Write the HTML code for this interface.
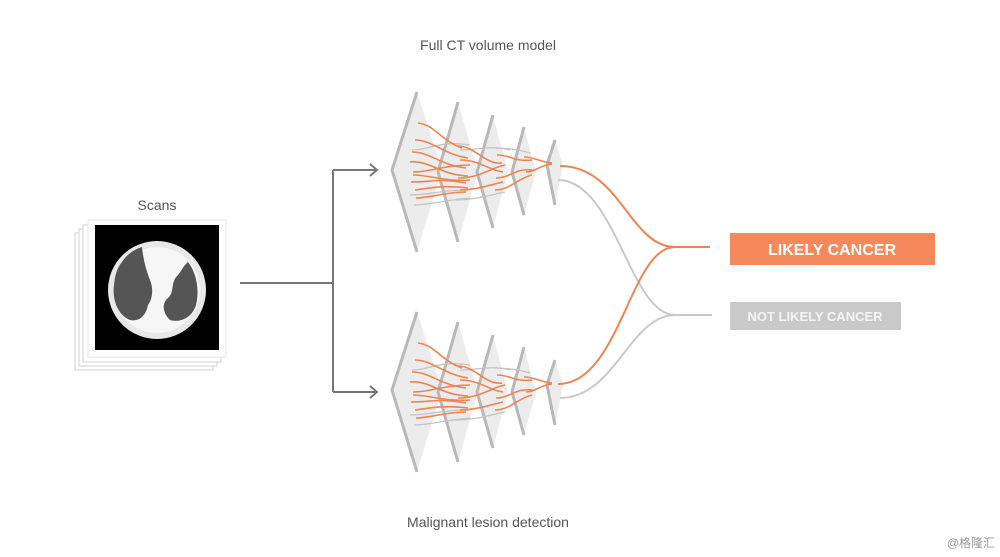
<!DOCTYPE html>
<html><head><meta charset="utf-8"><style>
html,body{margin:0;padding:0;background:#fff;}
body{width:1000px;height:557px;overflow:hidden;position:relative;font-family:"Liberation Sans","Noto Sans CJK SC",sans-serif;}
</style></head><body>
<svg width="1000" height="557" viewBox="0 0 1000 557" xmlns="http://www.w3.org/2000/svg" style="position:absolute;left:0;top:0">
<defs>
<g id="stack">
 <polygon points="417,92 442,170 417,252 392,170" fill="#ececec"/>
 <path d="M417,92 L392,170 L417,252" fill="none" stroke="#b8b8b8" stroke-width="3"/>
 <polygon points="458,102 478,172 458,242 438,172" fill="#ececec"/>
 <path d="M458,102 L438,172 L458,242" fill="none" stroke="#b8b8b8" stroke-width="3"/>
 <polygon points="493,115 508,172 493,228 477,172" fill="#ececec"/>
 <path d="M493,115 L477,172 L493,228" fill="none" stroke="#b8b8b8" stroke-width="3"/>
 <polygon points="524,127 536,172 524,215 512,172" fill="#ececec"/>
 <path d="M524,127 L512,172 L524,215" fill="none" stroke="#b8b8b8" stroke-width="3"/>
 <polygon points="555,140 563,165 555,205 547,165" fill="#ececec"/>
 <path d="M555,140 L547,165 L555,205" fill="none" stroke="#b8b8b8" stroke-width="3"/>
 <g fill="none" stroke="#c4c4c4" stroke-width="1.3">
  <path d="M412,150 C430,150 440,140 470,145"/>
  <path d="M410,195 C430,195 440,190 468,190"/>
  <path d="M414,205 C430,205 445,200 470,198"/>
  <path d="M460,150 C480,150 490,145 510,150"/>
  <path d="M455,200 C475,200 490,195 505,192"/>
  <path d="M495,148 C510,148 520,150 530,153"/>
 </g>
 <g fill="none" stroke="#ee8451" stroke-width="1.6">
  <path d="M418,123 C435,125 440,140 462,148"/>
  <path d="M415,140 C432,140 445,155 468,158"/>
  <path d="M412,152 C430,152 440,165 466,168"/>
  <path d="M410,162 C430,160 440,175 468,176"/>
  <path d="M413,172 C430,172 445,165 470,165"/>
  <path d="M411,182 C432,182 440,178 466,183"/>
  <path d="M415,190 C432,188 440,185 468,188"/>
  <path d="M416,198 C430,198 445,192 466,192"/>
  <path d="M413,175 C430,175 445,182 470,180"/>
  <path d="M458,146 C475,146 485,165 502,163"/>
  <path d="M460,160 C480,160 488,170 503,172"/>
  <path d="M458,178 C480,178 490,168 505,165"/>
  <path d="M460,190 C475,190 490,185 503,182"/>
  <path d="M497,155 C510,155 515,162 532,160"/>
  <path d="M496,178 C510,178 515,168 532,170"/>
  <path d="M495,190 C510,190 518,178 532,175"/>
  <path d="M524,157 C535,157 540,162 552,163"/>
  <path d="M526,172 C535,172 540,165 552,164"/>
 </g>
</g>
</defs>
<text x="488" y="50" font-size="14" fill="#555" text-anchor="middle">Full CT volume model</text>
<text x="488" y="527" font-size="14" fill="#555" text-anchor="middle">Malignant lesion detection</text>
<text x="157" y="210" font-size="14" fill="#555" text-anchor="middle">Scans</text>
<rect x="75" y="233" width="138" height="137" fill="#fff" stroke="#d0d0d0"/>
<rect x="79" y="229" width="138" height="137" fill="#fff" stroke="#d0d0d0"/>
<rect x="83" y="225" width="138" height="137" fill="#fff" stroke="#d0d0d0"/>
<rect x="88" y="220" width="138" height="137" fill="#fff" stroke="#e4e4e4"/>
<rect x="95" y="225" width="124" height="125" fill="#000"/>
<circle cx="157" cy="290" r="49" fill="#e8e8e8"/>
<circle cx="157" cy="290" r="43" fill="#f6f6f6"/>
<path d="M122,262 C130,250 140,248 142,247 C143,258 146,270 150,280 C154,290 152,300 148,305 C146,315 140,322 130,320 C118,315 112,300 114,285 C115,275 117,268 122,262 Z" fill="#555"/>
<path d="M188,262 C196,272 200,290 196,305 C192,318 180,323 170,320 C162,312 162,303 168,298 C175,292 170,282 178,275 C182,270 184,265 188,262 Z" fill="#555"/>
<g stroke="#777" stroke-width="2" fill="none">
<path d="M240,283 H333"/>
<path d="M333,170 V392"/>
<path d="M333,170 H376"/>
<path d="M333,392 H376"/>
<path d="M370,164 L377,170 L370,176"/>
<path d="M370,386 L377,392 L370,398"/>
</g>
<use href="#stack"/>
<use href="#stack" transform="translate(0,220)"/>
<g fill="none" stroke-width="2">
<path d="M560,166 C620,166 630,247 675,247 L710,247" stroke="#ee8451"/>
<path d="M558,180 C615,180 630,315 675,315 L712,315" stroke="#c9c9c9"/>
<path d="M558,384 C620,384 630,247 675,247" stroke="#ee8451"/>
<path d="M560,398 C615,398 630,315 675,315" stroke="#c9c9c9"/>
</g>
<rect x="730" y="233" width="205" height="32" fill="#f4895b"/>
<text x="832" y="255" font-size="16" font-weight="bold" fill="#fff" text-anchor="middle">LIKELY CANCER</text>
<rect x="730" y="302" width="171" height="28" fill="#c9c9c9"/>
<text x="815" y="321" font-size="13" font-weight="bold" fill="#f4f4f4" text-anchor="middle">NOT LIKELY CANCER</text>
<text x="995" y="547" font-size="12" fill="#999" text-anchor="end">@格隆汇</text>
</svg>
</body></html>
